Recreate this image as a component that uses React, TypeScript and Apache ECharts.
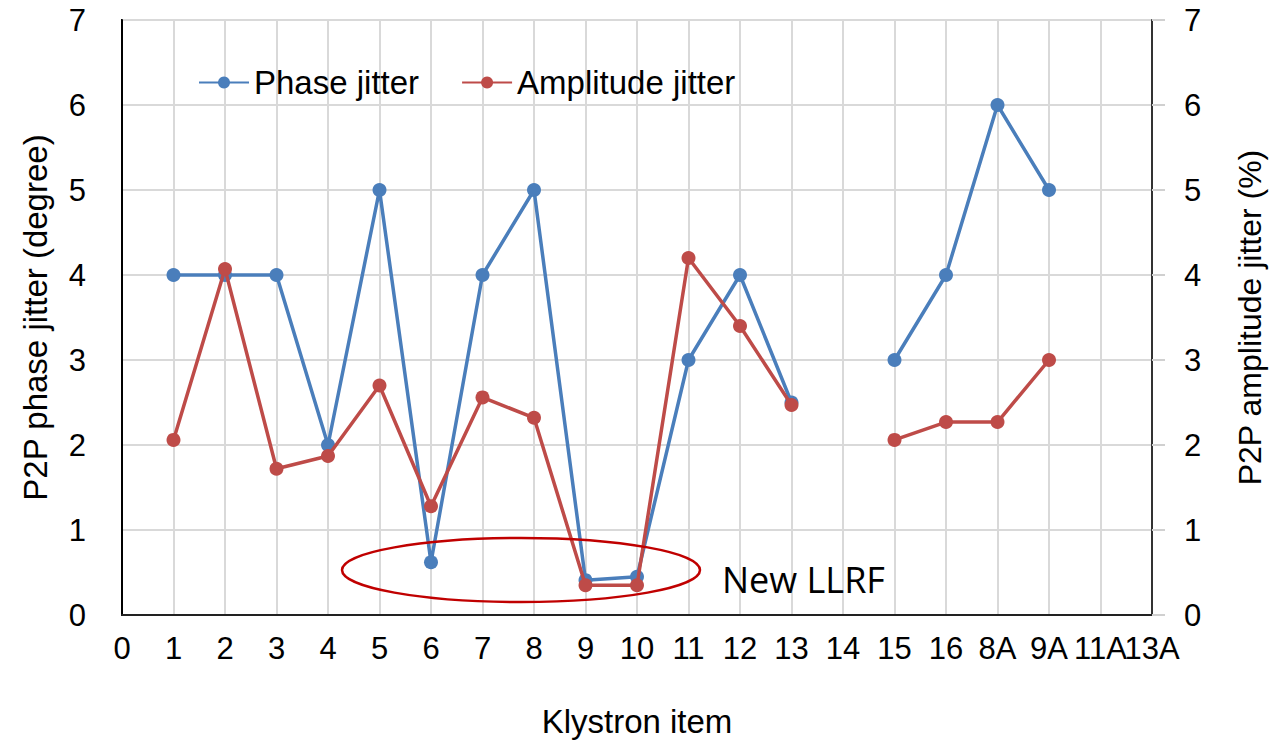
import React, { useEffect, useRef } from "react";
import * as echarts from "echarts";

const categories = ["0", "1", "2", "3", "4", "5", "6", "7", "8", "9", "10", "11", "12", "13", "14", "15", "16", "8A", "9A", "11A", "13A"];
const phaseJitter = [null, 4, 4, 4, 2, 5, 0.62, 4, 5, 0.41, 0.45, 3, 4, 2.5, null, 3, 4, 6, 5, null, null];
const amplitudeJitter = [null, 2.06, 4.07, 1.72, 1.87, 2.7, 1.28, 2.56, 2.32, 0.35, 0.35, 4.2, 3.4, 2.47, null, 2.06, 2.27, 2.27, 3.0, null, null];
const yTicks = { min: 0, max: 7, interval: 1 };

const FONT = "'Liberation Sans', Arial, sans-serif";
const BLUE = "#4A7EBB";
const RED = "#BE4B48";

export default function App() {
  const ref = useRef<HTMLDivElement>(null);
  useEffect(() => {
    document.body.style.margin = "0";
    const chart = echarts.init(ref.current!, undefined, { renderer: "svg" });
    chart.setOption({
      animation: false,
      backgroundColor: "#fff",
      textStyle: { fontFamily: FONT },
      grid: { left: 122, right: 120, top: 20, bottom: 128, show: true, borderColor: "#111", borderWidth: 2, containLabel: false },
      legend: {
        left: 193,
        top: 61,
        itemWidth: 50,
        itemHeight: 15,
        itemGap: 42,
        textStyle: { fontSize: 33, color: "#000", fontFamily: FONT },
        data: ["Phase jitter", "Amplitude jitter"],
      },
      xAxis: {
        type: "category",
        data: categories,
        boundaryGap: false,
        axisLine: { lineStyle: { color: "#222", width: 2 } },
        axisTick: { show: false },
        axisLabel: { interval: 0, fontSize: 31, color: "#000", margin: 18, fontFamily: FONT },
        splitLine: { show: true, lineStyle: { color: "#d9d9d9", width: 2 } },
        name: "Klystron item",
        nameLocation: "middle",
        nameGap: 90,
        nameTextStyle: { fontSize: 33, color: "#000", fontFamily: FONT },
      },
      yAxis: [
        {
          type: "value",
          ...yTicks,
          position: "left",
          axisLine: { show: true, lineStyle: { color: "#000", width: 2 } },
          axisTick: { show: false },
          axisLabel: { fontSize: 31, color: "#000", margin: 36, fontFamily: FONT },
          splitLine: { show: true, lineStyle: { color: "#d9d9d9", width: 2 } },
          name: "P2P phase jitter (degree)",
          nameLocation: "middle",
          nameGap: 70,
          nameTextStyle: { fontSize: 33, color: "#000", fontFamily: FONT },
        },
        {
          type: "value",
          ...yTicks,
          position: "right",
          axisLine: { show: true, lineStyle: { color: "#333", width: 2 } },
          axisTick: { show: true, length: 13, lineStyle: { color: "#d0d0d0", width: 2 } },
          axisLabel: { fontSize: 31, color: "#000", margin: 32, fontFamily: FONT },
          splitLine: { show: false },
          name: "P2P amplitude jitter (%)",
          nameLocation: "middle",
          nameGap: 82,
          nameTextStyle: { fontSize: 32, color: "#000", fontFamily: FONT },
        },
      ],
      series: [
        {
          name: "Phase jitter",
          type: "line",
          yAxisIndex: 0,
          data: phaseJitter,
          symbol: "circle",
          symbolSize: 14,
          lineStyle: { color: BLUE, width: 3.5 },
          itemStyle: { color: BLUE },
          z: 2,
        },
        {
          name: "Amplitude jitter",
          type: "line",
          yAxisIndex: 1,
          data: amplitudeJitter,
          symbol: "circle",
          symbolSize: 14,
          lineStyle: { color: RED, width: 3.5 },
          itemStyle: { color: RED },
          z: 3,
        },
      ],
      graphic: [
        {
          type: "ellipse",
          shape: { cx: 521, cy: 570, rx: 179, ry: 32 },
          style: { fill: "none", stroke: "#C00000", lineWidth: 2.5 },
          z: 10,
        },
        {
          type: "text",
          x: 722,
          y: 579,
          style: { text: "New LLRF", fontSize: 36, fontFamily: "'Open Sans', sans-serif", fill: "#000", verticalAlign: "middle" },
          z: 10,
        },
      ],
    });
    return () => chart.dispose();
  }, []);
  return <div ref={ref} style={{ width: 1274, height: 743 }} />;
}
